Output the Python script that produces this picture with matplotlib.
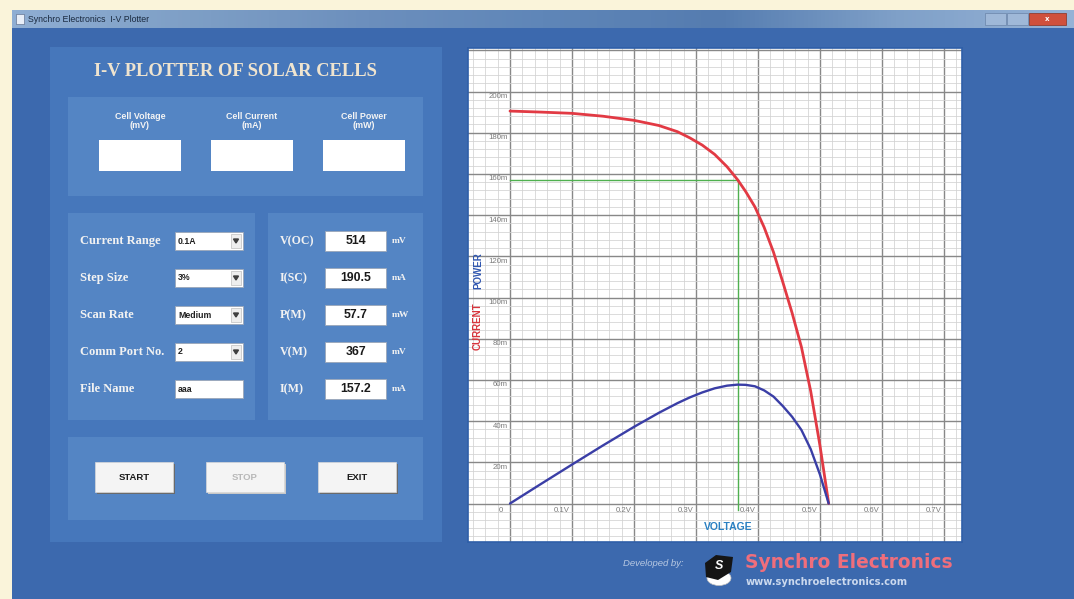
import matplotlib
matplotlib.use("Agg")
import matplotlib.pyplot as plt
from matplotlib.patches import Rectangle, Polygon, Ellipse
from matplotlib.ticker import MultipleLocator
from matplotlib.colors import LinearSegmentedColormap
import numpy as np

# ---------------- data ----------------
voltage_v = [0.000, 0.050, 0.100, 0.150, 0.200, 0.240, 0.270, 0.290, 0.310, 0.330,
             0.350, 0.367, 0.380, 0.395, 0.410, 0.425, 0.440, 0.455, 0.470, 0.485,
             0.500, 0.514]
current_a = [0.1905, 0.1900, 0.1894, 0.1880, 0.1860, 0.1835, 0.1805, 0.1775, 0.1740,
             0.1695, 0.1635, 0.1572, 0.1515, 0.1440, 0.1340, 0.1220, 0.1075, 0.0925,
             0.0760, 0.0545, 0.0280, 0.0]
power_w = [0.0, 0.0095, 0.0189, 0.0282, 0.0372, 0.0440, 0.0487, 0.0515, 0.0539,
           0.0559, 0.0572, 0.0577, 0.0576, 0.0569, 0.0549, 0.0519, 0.0473, 0.0421,
           0.0357, 0.0264, 0.0140, 0.0]
vm_v, im_a = 0.367, 0.1572

x_tick_values = [0.1, 0.2, 0.3, 0.4, 0.5, 0.6, 0.7]
x_tick_labels = ["0.1V", "0.2V", "0.3V", "0.4V", "0.5V", "0.6V", "0.7V"]
y_tick_values = [0.02, 0.04, 0.06, 0.08, 0.10, 0.12, 0.14, 0.16, 0.18, 0.20]
y_tick_labels = ["20m", "40m", "60m", "80m", "100m", "120m", "140m", "160m", "180m", "200m"]

cell_labels = ["Cell Voltage\n(mV)", "Cell Current\n(mA)", "Cell Power\n(mW)"]
setting_labels = ["Current Range", "Step Size", "Scan Rate", "Comm Port No.", "File Name"]
setting_values = ["0.1A", "3%", "Medium", "2", "aaa"]
result_labels = ["V(OC)", "I(SC)", "P(M)", "V(M)", "I(M)"]
result_values = ["514", "190.5", "57.7", "367", "157.2"]
result_units = ["mV", "mA", "mW", "mV", "mA"]
button_labels = ["START", "STOP", "EXIT"]

# ---------------- figure / GUI background ----------------
W, H = 1074, 599
fig = plt.figure(figsize=(W / 100, H / 100), dpi=100)
bg = fig.add_axes([0, 0, 1, 1])
bg.set_xlim(0, W)
bg.set_ylim(H, 0)
bg.axis('off')

BLUE_BG = '#3c69ae'
PANEL = '#4677bb'
SUB = '#5485c4'
SERIF = 'Liberation Serif'
SANS = 'Liberation Sans'


def rect(x0, y0, x1, y1, fc, ec='none', lw=0, z=1):
    bg.add_patch(Rectangle((x0, y0), x1 - x0, y1 - y0, facecolor=fc,
                           edgecolor=ec, linewidth=lw, zorder=z))


rect(0, 0, W, H, '#faf4da', z=0)            # cream desktop frame
rect(12, 28, W, H, BLUE_BG, z=0.5)          # window body
grad = np.linspace(0, 1, 256).reshape(1, -1)
tb_cmap = LinearSegmentedColormap.from_list(
    'tb', ['#8faed3', '#7e9fc6', '#6c8fbd', '#5f86b8', '#557cb0', '#7fa0c8', '#95b2d6'])
bg.imshow(grad, extent=(12, W, 28, 10), aspect='auto', cmap=tb_cmap, zorder=0.6)
bg.text(28, 19, "Synchro Electronics  I-V Plotter", fontsize=6.3, color='#1a2a40',
        va='center', ha='left', family=SANS, zorder=2)
rect(16, 14, 24, 24, '#e8eef8', ec='#506080', lw=0.4, z=2)
rect(985, 13, 1006, 25, '#9fb8d8', ec='#6a84a8', lw=0.5, z=2)
rect(1007, 13, 1028, 25, '#9fb8d8', ec='#6a84a8', lw=0.5, z=2)
rect(1029, 13, 1066, 25, '#d0503c', ec='#8a3020', lw=0.5, z=2)
bg.text(1047.5, 19, "x", fontsize=5, color='white', ha='center', va='center',
        fontweight='bold', zorder=3)

# left panel
rect(50, 47, 442, 542, PANEL, z=1)
bg.text(235, 72, "I-V PLOTTER OF SOLAR CELLS", fontsize=13.3, fontweight='bold',
        family=SERIF, color='#efe4cf', ha='center', va='center', zorder=3)

# cell readout panel
rect(68, 97, 423, 196, SUB, z=1.5)
for i, lab in enumerate(cell_labels):
    cx = 140 + i * 112
    bg.text(cx, 121, lab, fontsize=6.4, fontweight='bold', family=SANS,
            color='#f4f4f4', ha='center', va='center', linespacing=1.0, zorder=3)
    rect(cx - 41, 140, cx + 41, 171, 'white', z=2)

# settings panel and result panel
rect(68, 213, 255, 420, SUB, z=1.5)
rect(268, 213, 423, 420, SUB, z=1.5)
for i in range(5):
    cy = 241 + i * 37
    bg.text(80, cy, setting_labels[i], fontsize=9, fontweight='bold', family=SERIF,
            color='#f2f2f2', ha='left', va='center', zorder=3)
    rect(175, cy - 9, 243, cy + 9, 'white', ec='#9aa6b8', lw=0.6, z=2)
    bg.text(178, cy, setting_values[i], fontsize=6.3, fontweight='bold', family=SANS,
            color='#202020', ha='left', va='center', zorder=3)
    if i < 4:
        rect(231, cy - 7, 241, cy + 7, '#eeeeee', ec='#b0b0b0', lw=0.4, z=2.5)
        bg.add_patch(Polygon([[233.5, cy - 2], [238.5, cy - 2], [236, cy + 2]],
                             closed=True, color='#404040', zorder=3))

    bg.text(280, cy, result_labels[i], fontsize=8.6, fontweight='bold', family=SERIF,
            color='#f2f2f2', ha='left', va='center', zorder=3)
    rect(325, cy - 10, 386, cy + 10, 'white', ec='#9aa6b8', lw=0.6, z=2)
    bg.text(355.5, cy, result_values[i], fontsize=8.8, fontweight='bold', family=SANS,
            color='#1a1a1a', ha='center', va='center', zorder=3)
    bg.text(392, cy, result_units[i], fontsize=6.8, fontweight='bold', family=SERIF,
            color='#f2f2f2', ha='left', va='center', zorder=3)

# buttons panel
rect(68, 437, 423, 520, SUB, z=1.5)
for i, lab in enumerate(button_labels):
    x0 = [95, 206, 318][i]
    shadow = '#6a6a6a' if i != 1 else '#c8c8c8'
    rect(x0 + 1.5, 463.5, x0 + 79.5, 493.5, shadow, z=2)
    rect(x0, 462, x0 + 78, 492, '#f4f4f4', ec='#d8d8d8', lw=0.5, z=2.2)
    bg.text(x0 + 39, 477, lab, fontsize=6.8, fontweight='bold', family=SANS,
            color='#1a1a1a' if i != 1 else '#b8b8b8', ha='center', va='center', zorder=3)

# footer
bg.text(653, 563, "Developed by:", fontsize=6.8, style='italic', family=SANS,
        color='#b7c8e2', ha='center', va='center', zorder=3)
bg.add_patch(Ellipse((719, 578), 24, 15, facecolor='white', edgecolor='#c0c0c0',
                     lw=0.5, zorder=3))
bg.add_patch(Polygon([[705, 563], [716, 555], [733, 557], [731, 572], [718, 580],
                      [706, 577]], closed=True, facecolor='#151515', zorder=3.5))
bg.text(719, 566, "S", fontsize=9, fontweight='bold', style='italic', color='white',
        ha='center', va='center', family=SANS, zorder=4)
bg.text(745, 563, "Synchro Electronics", fontsize=13.4, fontweight='bold',
        family='DejaVu Sans', color='#ef6e7c', ha='left', va='center', zorder=3)
bg.text(746, 582, "www.synchroelectronics.com", fontsize=7.1, fontweight='bold',
        family='DejaVu Sans', color='#cbd9ee', ha='left', va='center', zorder=3)

# ---------------- chart ----------------
ax = fig.add_axes([468 / W, (H - 542) / H, 494 / W, 494 / H])
ax.set_facecolor('white')
x0_px, px_per_v = 510, 620
y0_px, px_per_a = 503.5, 2060
ax.set_xlim((468 - x0_px) / px_per_v, (962 - x0_px) / px_per_v)
ax.set_ylim((y0_px - 542) / px_per_a, (y0_px - 48) / px_per_a)

ax.xaxis.set_major_locator(MultipleLocator(0.1))
ax.xaxis.set_minor_locator(MultipleLocator(0.02))
ax.yaxis.set_major_locator(MultipleLocator(0.02))
ax.yaxis.set_minor_locator(MultipleLocator(0.004))
ax.grid(which='minor', color='#d2d2d2', linewidth=0.55)
ax.grid(which='major', color='#888888', linewidth=1.0)
ax.set_axisbelow(True)
ax.tick_params(which='both', length=0, labelbottom=False, labelleft=False)
for s in ax.spines.values():
    s.set_color('#2f5fa8')
    s.set_linewidth(1.2)

tick_color = '#7a7a7a'
for v, lab in zip(x_tick_values, x_tick_labels):
    ax.text(v - 0.004, -0.0033, lab, fontsize=5.6, color=tick_color, ha='right',
            va='center', family=SANS, zorder=5)
for v, lab in zip(y_tick_values, y_tick_labels):
    ax.text(-0.004, v - 0.0024, lab, fontsize=5.6, color=tick_color, ha='right',
            va='center', family=SANS, zorder=5)
ax.text(-0.014, -0.0036, "0", fontsize=5.6, color=tick_color, ha='center',
        va='center', family=SANS, zorder=5)

# max-power guide lines
ax.plot([0, vm_v], [im_a, im_a], color='#4fb04f', linewidth=1.0, zorder=3)
ax.plot([vm_v, vm_v], [-0.003, im_a], color='#4fb04f', linewidth=1.0, zorder=3)

ax.plot(voltage_v, current_a, color='#e23a44', linewidth=2.0, zorder=4,
        solid_capstyle='round', solid_joinstyle='round')
ax.plot(voltage_v, power_w, color='#3a3ea6', linewidth=1.7, zorder=4,
        solid_capstyle='round', solid_joinstyle='round')

ax.text((728 - 468) / 494, (542 - 527) / 494, "VOLTAGE", transform=ax.transAxes,
        fontsize=7.5, fontweight='bold', color='#2a80c2', ha='center', va='center',
        family=SANS)
ax.text((478 - 468) / 494, (542 - 326) / 494, "CURRENT", transform=ax.transAxes,
        fontsize=7, fontweight='bold', color='#d8343c', ha='center', va='center',
        rotation=90, family=SANS)
ax.text((478 - 468) / 494, (542 - 271) / 494, "POWER", transform=ax.transAxes,
        fontsize=7, fontweight='bold', color='#2f56b0', ha='center', va='center',
        rotation=90, family=SANS)

fig.savefig("out.png", dpi=100)
